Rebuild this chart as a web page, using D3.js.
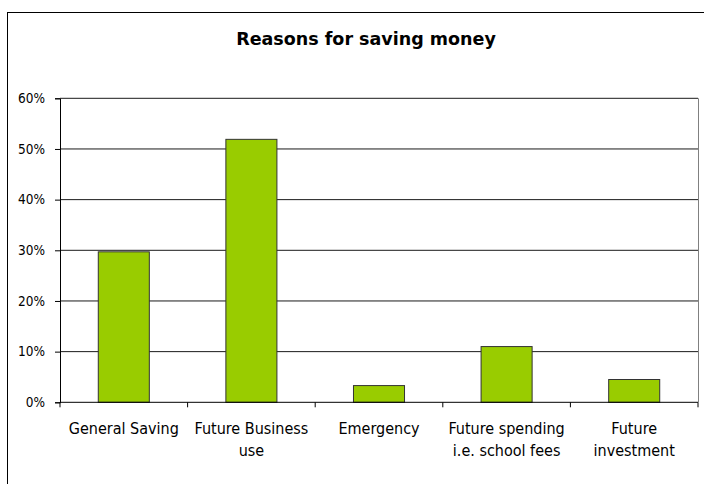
<!DOCTYPE html>
<html><head><meta charset="utf-8">
<script src="https://cdn.jsdelivr.net/npm/d3@7"></script>
<style>
body{margin:0;background:#fff;}
svg{display:block;}
text{font-family:"DejaVu Sans Condensed","DejaVu Sans",sans-serif;fill:#000;}
</style></head>
<body>
<svg id="chart" width="704" height="484"></svg>
<script>
const title = "Reasons for saving money";
const categories = ["General Saving", "Future Business\nuse", "Emergency", "Future spending\ni.e. school fees", "Future\ninvestment"];
const values = [0.297, 0.519, 0.033, 0.110, 0.045];
const yTicks = [0, 0.1, 0.2, 0.3, 0.4, 0.5, 0.6];

const svg = d3.select("#chart");
const margin = {left: 60, right: 6, top: 98.3, bottom: 81.7};
const W = 704, H = 484;

// outer frame
svg.append("rect").attr("x", 7.5).attr("y", 12.5).attr("width", 720).attr("height", 500)
  .attr("fill", "#fff").attr("stroke", "#000").attr("stroke-width", 1);

svg.append("text").attr("x", 366).attr("y", 45).attr("text-anchor", "middle")
  .style("font-family", '"DejaVu Sans",sans-serif')
  .style("font-size", "17.5px").style("font-weight", "bold").text(title);

const x = d3.scaleBand().domain(categories).range([margin.left, W - margin.right])
  .paddingInner(0.6).paddingOuter(0.3);
const y = d3.scaleLinear().domain([0, 0.6]).range([H - margin.bottom, margin.top]);

// gridlines
svg.append("g").selectAll("line").data(yTicks.slice(1)).join("line")
  .attr("x1", margin.left).attr("x2", W - margin.right)
  .attr("y1", d => y(d)).attr("y2", d => y(d))
  .attr("stroke", "#1a1a1a").attr("stroke-width", 1);

// right plot border
svg.append("line").attr("x1", W - margin.right + 0.5).attr("x2", W - margin.right + 0.5)
  .attr("y1", y(0.6)).attr("y2", y(0)).attr("stroke", "#808080");

// bars
svg.append("g").selectAll("rect").data(values).join("rect")
  .attr("x", (d, i) => x(categories[i]))
  .attr("y", d => y(d))
  .attr("width", x.bandwidth())
  .attr("height", d => y(0) - y(d))
  .attr("fill", "#99cc00").attr("stroke", "#333").attr("stroke-width", 1);

// y axis
const yAxis = d3.axisLeft(y).tickValues(yTicks).tickFormat(d3.format(".0%")).tickSize(5).tickPadding(10);
const gy = svg.append("g").attr("transform", `translate(${margin.left},0)`).call(yAxis);
gy.select(".domain").attr("stroke", "#000");
gy.selectAll("text").style("font-size", "13.5px").style("font-family", '"DejaVu Sans Condensed","DejaVu Sans",sans-serif');

// x axis
const band = x.step();
const xTickPos = d3.range(categories.length + 1).map(i => margin.left + i * band);
const gx = svg.append("g");
gx.append("line").attr("x1", margin.left).attr("x2", W - margin.right)
  .attr("y1", y(0)).attr("y2", y(0)).attr("stroke", "#000");
gx.selectAll("line.tk").data(xTickPos).join("line").attr("class", "tk")
  .attr("x1", d => d).attr("x2", d => d).attr("y1", y(0)).attr("y2", y(0) + 5).attr("stroke", "#000");
const labels = gx.selectAll("text").data(categories).join("text")
  .attr("text-anchor", "middle").style("font-size", "16px")
  .attr("transform", d => `translate(${x(d) + x.bandwidth() / 2},434)`);
labels.each(function(d) {
  const t = d3.select(this);
  d.split("\n").forEach((line, i) => t.append("tspan").attr("x", 0).attr("dy", i ? 21.5 : 0).text(line));
});
</script>
</body></html>
